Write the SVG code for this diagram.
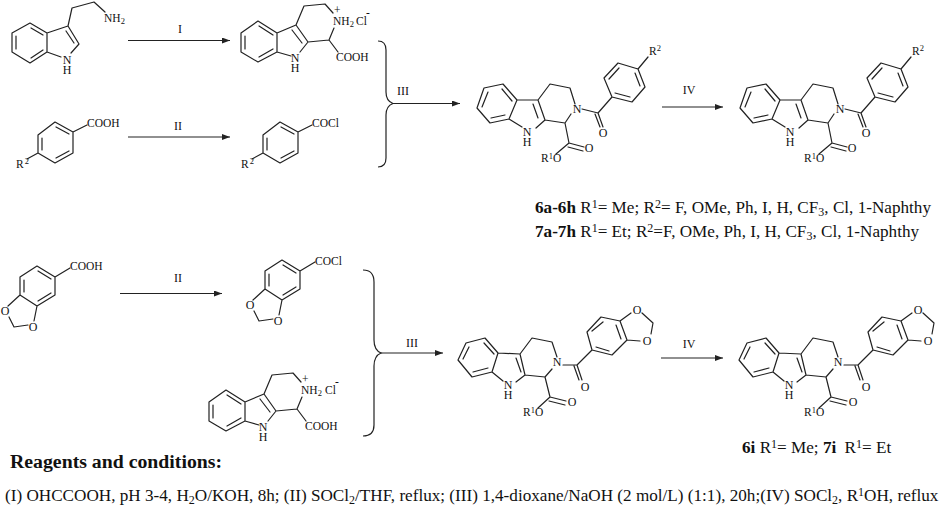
<svg xmlns="http://www.w3.org/2000/svg" width="941" height="509" viewBox="0 0 941 509">
<style>
text{font-family:"Liberation Serif","Times New Roman",serif;fill:#111}
.a{font-size:11.5px}.m{font-size:12px;text-anchor:middle}.s{font-size:8.5px}
.b{fill:none;stroke:#222;stroke-width:1.2;stroke-linejoin:round;stroke-linecap:round}
.c{fill:none;stroke:#222;stroke-width:1.2}
.t{font-size:17.15px}.w{font-weight:bold}.u{font-size:12px}
</style>
<defs>
<marker id="ah" markerWidth="9" markerHeight="6" refX="8" refY="3" orient="auto" markerUnits="userSpaceOnUse"><path d="M0,0L8,3L0,6Z" fill="#222"/></marker>
<path id="carb" class="b" d="M241,33L258,21L277,33L277,52L258,62L241,52ZM245,36L245,49M259,26L273,35M259,57L273,49M277,33L296,25L308,42L300,52M277,52L291,56M292,30L302,43M296,25L304,6L325,4L333,13M308,42L329,40L334,28M329,40L338,52"/>
<path id="tbz" class="b" d="M38,135L55,122L73,132L73,153L55,163L38,153ZM42,138L42,150M56,127L69,134M56,158L69,151M38,153L27,159M73,132L87,125"/>
<path id="pa" class="b" d="M477,108L484,88L503,84L517,100L509,119L490,123ZM482,107L488,92M502,89L512,101M505,115L491,118M517,100L538,100L545,120L536,128M509,119L522,127M533,104L538,118M538,100L550,84L570,88L575,104M545,120L565,123L571,114M565,123L569,143L584,147M568,147L583,151M569,143L556,154M582,109L598,113L612,97M598,113L603,127M595,114L600,127M612,97L604,78L618,63L638,69L645,87L632,102ZM609,79L619,68M635,73L640,86M630,97L615,93M638,69L648,57"/>
<path id="pb" class="b" d="M458,360L466,343L485,338L498,353L492,372L472,377ZM463,359L469,347M484,343L494,354M488,368L473,372M498,353L520,354L525,375L516,382M492,372L503,381M516,358L521,372M520,354L532,338L552,342L557,357M525,375L545,377L552,369M545,377L550,397L566,401M549,401L565,405M550,397L538,408M563,365L577,365L592,350M577,365L582,380M574,366L579,380M592,350L587,332L601,317L620,321L627,340L612,355ZM592,331L603,322M616,325L621,339M609,351L596,347M620,321L631,313M627,340L640,341M642,313L653,323L651,334"/>
<path id="dio" class="b" d="M20,277L37,266L55,277L55,295L37,306L20,295ZM24,280L24,292M38,271L51,279M38,301L51,293M20,295L8,306M37,306L34,321M9,317L14,327L28,325M55,277L70,268"/>
</defs>
<g id="connectors">
<path class="c" marker-end="url(#ah)" d="M128,40.5H230"/>
<path class="c" marker-end="url(#ah)" d="M128,137H230"/>
<path class="c" marker-end="url(#ah)" d="M120,293.5H222"/>
<path class="c" marker-end="url(#ah)" d="M392,103.5H460"/>
<path class="c" marker-end="url(#ah)" d="M662,107H723"/>
<path class="c" marker-end="url(#ah)" d="M380,353H443"/>
<path class="c" marker-end="url(#ah)" d="M661,358H723"/>
<path class="c" d="M378,41Q386,41 386,50V92Q386,101 393,103.5Q386,106 386,115V158Q386,167 378,167"/>
<path class="c" d="M363,270Q374,270 374,282V340Q374,350 381,353Q374,356 374,366V425Q374,436 363,436"/>
<text class="m" x="180" y="33">I</text>
<text class="m" x="178" y="130">II</text>
<text class="m" x="178" y="282">II</text>
<text class="m" x="403" y="95">III</text>
<text class="m" x="412" y="347">III</text>
<text class="m" x="689" y="94">IV</text>
<text class="m" x="689" y="348">IV</text>
</g>
<g id="tryptamine">
<path class="b" d="M12,33L30,23L47,33L47,52L30,63L12,52ZM16,36L16,49M31,28L43,35M31,58L43,50M47,33L68,26L79,44L71,53M47,52L61,57M66,31L74,43M68,26L72,8L94,2L105,12"/>
<text class="m"><tspan x="67" y="64">N</tspan><tspan x="67" y="74">H</tspan></text>
<text class="a" x="104" y="22">NH<tspan class="s" dy="2">2</tspan></text>
</g>
<g id="carboline-acid">
<use href="#carb"/>
<text class="m"><tspan x="295" y="62">N</tspan><tspan x="295" y="72">H</tspan></text>
<text class="a" x="333" y="25">NH<tspan class="s" dy="2">2</tspan></text><text class="a" x="334" y="14">+</text>
<text class="a" x="356" y="25">Cl</text><text class="a" x="366" y="16">-</text>
<text class="a" x="336" y="61">COOH</text>
</g>
<g id="benzoic-acid">
<use href="#tbz"/>
<text class="a" x="87" y="127">COOH</text>
<text class="a" x="16" y="168">R<tspan class="s" dx="1" dy="-4">2</tspan></text>
</g>
<g id="benzoyl-chloride">
<use href="#tbz" x="225"/>
<text class="a" x="312" y="127">COCl</text>
<text class="a" x="241" y="168">R<tspan class="s" dx="1" dy="-4">2</tspan></text>
</g>
<g id="product-6a"><use href="#pa"/>
<text class="m" x="577" y="113">N</text><text class="m" x="603" y="137">O</text><text class="m"><tspan x="527" y="136">N</tspan><tspan x="527" y="146">H</tspan></text>
<text class="m" x="589" y="152">O</text><text class="a" x="541" y="162">R<tspan class="s" dy="-3">1</tspan><tspan dy="3">O</tspan></text>
<text class="a" x="649" y="55">R<tspan class="s" dy="-4">2</tspan></text>
</g>
<g id="product-6b"><use href="#pa" x="263"/>
<text class="m" x="840" y="113">N</text><text class="m" x="866" y="137">O</text><text class="m"><tspan x="790" y="136">N</tspan><tspan x="790" y="146">H</tspan></text>
<text class="m" x="852" y="152">O</text><text class="a" x="804" y="162">R<tspan class="s" dy="-3">1</tspan><tspan dy="3">O</tspan></text>
<text class="a" x="912" y="55">R<tspan class="s" dy="-4">2</tspan></text>
</g>
<g id="benzodioxole-acid"><use href="#dio"/>
<text class="m" x="5" y="315">O</text><text class="m" x="33" y="331">O</text>
<text class="a" x="70" y="270">COOH</text>
</g>
<g id="benzodioxole-chloride"><use href="#dio" x="245" y="-6"/>
<text class="m" x="250" y="309">O</text><text class="m" x="278" y="325">O</text>
<text class="a" x="315" y="265">COCl</text>
</g>
<g id="carboline-acid-2"><use href="#carb" x="-32" y="369"/>
<text class="m"><tspan x="263" y="431">N</tspan><tspan x="263" y="441">H</tspan></text>
<text class="a" x="301" y="394">NH<tspan class="s" dy="2">2</tspan></text><text class="a" x="302" y="383">+</text>
<text class="a" x="325" y="394">Cl</text><text class="a" x="335" y="385">-</text>
<text class="a" x="305" y="430">COOH</text>
</g>
<g id="product-6i"><use href="#pb"/>
<text class="m"><tspan x="508" y="389">N</tspan><tspan x="508" y="399">H</tspan></text><text class="m" x="557" y="366">N</text><text class="m" x="585" y="391">O</text><text class="m" x="572" y="406">O</text>
<text class="a" x="523" y="416">R<tspan class="s" dy="-3">1</tspan><tspan dy="3">O</tspan></text>
<text class="m" x="637" y="314">O</text><text class="m" x="647" y="345">O</text>
</g>
<g id="product-7i"><use href="#pb" x="281"/>
<text class="m"><tspan x="789" y="389">N</tspan><tspan x="789" y="399">H</tspan></text><text class="m" x="838" y="366">N</text><text class="m" x="866" y="391">O</text><text class="m" x="853" y="406">O</text>
<text class="a" x="804" y="416">R<tspan class="s" dy="-3">1</tspan><tspan dy="3">O</tspan></text>
<text class="m" x="918" y="314">O</text><text class="m" x="928" y="345">O</text>
</g>
<g id="captions">
<text class="t" x="535" y="213"><tspan class="w">6a-6h</tspan> R<tspan class="u" dy="-5">1</tspan><tspan dy="5">= Me; R</tspan><tspan class="u" dy="-5">2</tspan><tspan dy="5">= F, OMe, Ph, I, H, CF</tspan><tspan class="u" dy="3">3</tspan><tspan dy="-3">, Cl, 1-Naphthy</tspan></text>
<text class="t" x="535" y="237"><tspan class="w">7a-7h</tspan> R<tspan class="u" dy="-5">1</tspan><tspan dy="5">= Et; R</tspan><tspan class="u" dy="-5">2</tspan><tspan dy="5">=F, OMe, Ph, I, H, CF</tspan><tspan class="u" dy="3">3</tspan><tspan dy="-3">, Cl, 1-Naphthy</tspan></text>
<text class="t" x="742" y="453"><tspan class="w">6i</tspan> R<tspan class="u" dy="-5">1</tspan><tspan dy="5">= Me; </tspan><tspan class="w">7i</tspan><tspan dx="4"> R</tspan><tspan class="u" dy="-5">1</tspan><tspan dy="5">= Et</tspan></text>
<text class="w" x="10" y="468" font-size="19.8">Reagents and conditions:</text>
<text class="t" x="5" y="501">(I) OHCCOOH, pH 3-4, H<tspan class="u" dy="3">2</tspan><tspan dy="-3">O/KOH, 8h; (II) SOCl</tspan><tspan class="u" dy="3">2</tspan><tspan dy="-3">/THF, reflux; (III) 1,4-dioxane/NaOH (2 mol/L) (1:1), 20h;(IV) SOCl</tspan><tspan class="u" dy="3">2</tspan><tspan dy="-3">, R</tspan><tspan class="u" dy="-5">1</tspan><tspan dy="5">OH, reflux</tspan></text>
</g>
</svg>
